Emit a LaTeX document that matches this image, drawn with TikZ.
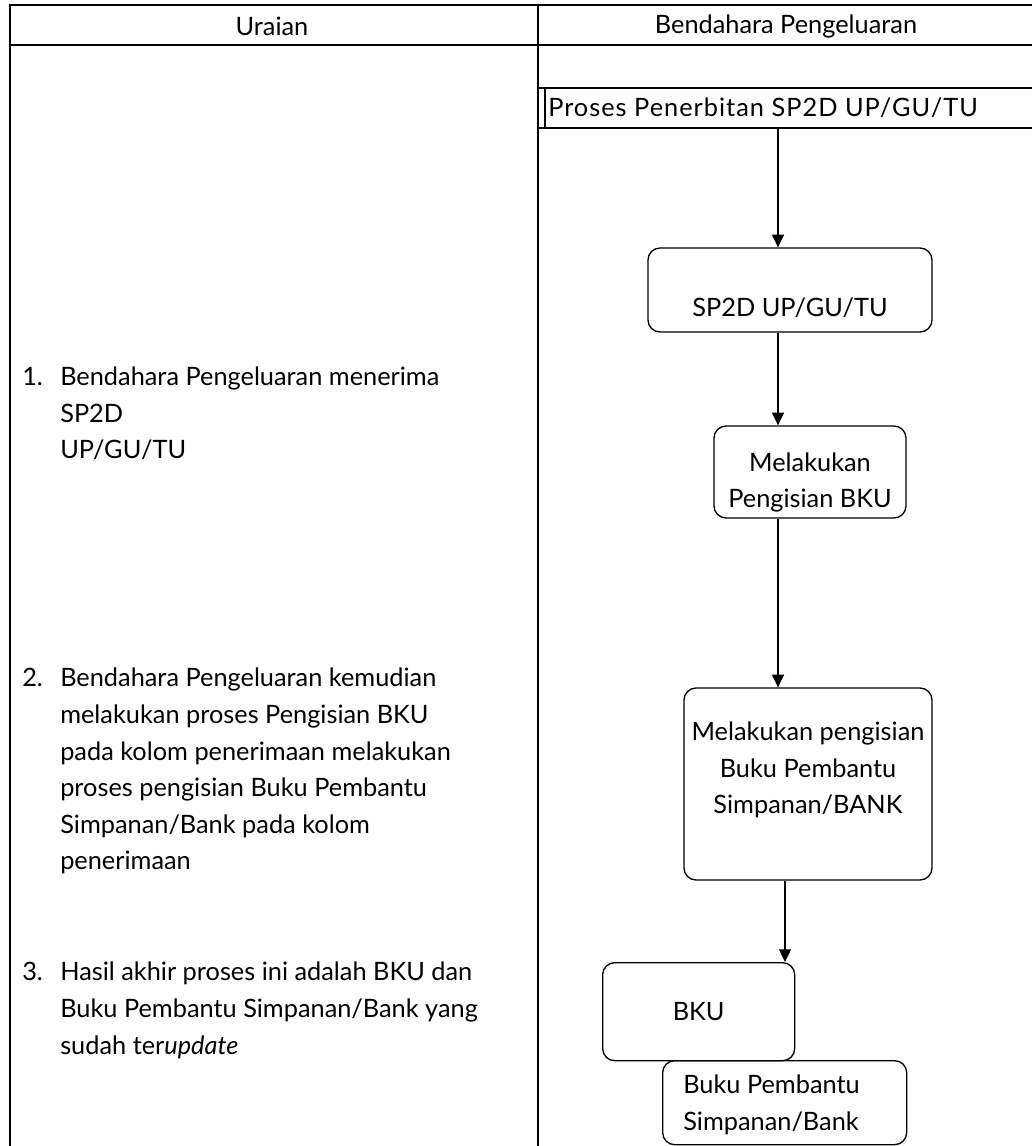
\documentclass[tikz,border=0pt]{standalone}
\usepackage{fontspec}
\setmainfont{Lato}
\usetikzlibrary{arrows.meta}
\begin{document}
\begin{tikzpicture}[x=0.75pt,y=-0.75pt,
  every node/.style={font=\fontsize{19}{27.4}\selectfont},
  tab/.style={line width=1.3pt},
  boxnode/.style={draw,line width=1pt,rounded corners=9pt,inner sep=0pt},
  lbl/.style={align=center,inner sep=0pt},
  flow/.style={line width=0.9pt,-{Triangle[length=9.5pt,width=9pt]}},
  txt/.style={anchor=north west,align=left,inner sep=0pt}]
\useasboundingbox (0,0) rectangle (1032,1146);
% table
\draw[tab] (10,1146) -- (10,5) -- (1032,5);
\draw[tab] (10,45) -- (1032,45);
\draw[tab] (538,5) -- (538,1146);
\draw[tab] (538,88) -- (1032,88);
\draw[tab] (538,128) -- (1032,128);
\draw[line width=1pt] (545,88) -- (545,128);
\node (h1) at (272,26) {Uraian};
\node (h2) at (786,26) {Bendahara Pengeluaran};
\node[anchor=west,inner sep=0pt] (proses) at (548,108) {\addfontfeature{LetterSpace=4}Proses Penerbitan SP2D UP/GU/TU};
\coordinate (pstart) at (778,128);
% left text
\node[txt] (n1) at (22,367) {1.};
\node[txt] (t1) at (60,367) {Bendahara Pengeluaran menerima\\SP2D\\UP/GU/TU};
\node[txt] (n2) at (22,668) {2.};
\node[txt] (t2) at (60,668) {Bendahara Pengeluaran kemudian\\melakukan proses Pengisian BKU\\pada kolom penerimaan melakukan\\proses pengisian Buku Pembantu\\Simpanan/Bank pada kolom\\penerimaan};
\node[txt] (n3) at (22,962) {3.};
\node[txt] (t3) at (60,962) {Hasil akhir proses ini adalah BKU dan\\Buku Pembantu Simpanan/Bank yang\\sudah ter\textit{update}};
% boxes
\node[boxnode,minimum width=284*0.75pt,minimum height=84*0.75pt,
  label={[lbl,name=sp2dtxt,yshift=-13.5pt]center:SP2D UP/GU/TU}] (sp2d) at (790,290) {};
\node[boxnode,minimum width=192*0.75pt,minimum height=92*0.75pt,
  label={[lbl,name=bku1txt,yshift=-8pt]center:Melakukan\\Pengisian BKU}] (bku1) at (810,472) {};
\node[boxnode,minimum width=248*0.75pt,minimum height=192*0.75pt,
  label={[lbl,name=bpbtxt,yshift=10.5pt]center:Melakukan pengisian\\Buku Pembantu\\Simpanan/BANK}] (bpb) at (808,784) {};
\node[boxnode,minimum width=244*0.75pt,minimum height=84*0.75pt,anchor=north west] (buku) at (662,1060) {};
\node[anchor=north west,align=left,inner sep=0pt] (bukutxt) at (683,1075) {Buku Pembantu\\Simpanan/Bank};
\node[boxnode,fill=white,minimum width=192*0.75pt,minimum height=98*0.75pt,anchor=north west,
  label={[lbl,name=bkutxt]center:BKU}] (bku) at (602,962) {};
% arrows
\draw[flow] (pstart) -- (sp2d.north -| pstart);
\draw[flow] (sp2d.south -| pstart) -- (bku1.north -| pstart);
\draw[flow] (bku1.south -| pstart) -- (bpb.north -| pstart);
\coordinate (a4) at (785,0);
\draw[flow] (bpb.south -| a4) -- (bku.north -| a4);
\end{tikzpicture}
\end{document}
